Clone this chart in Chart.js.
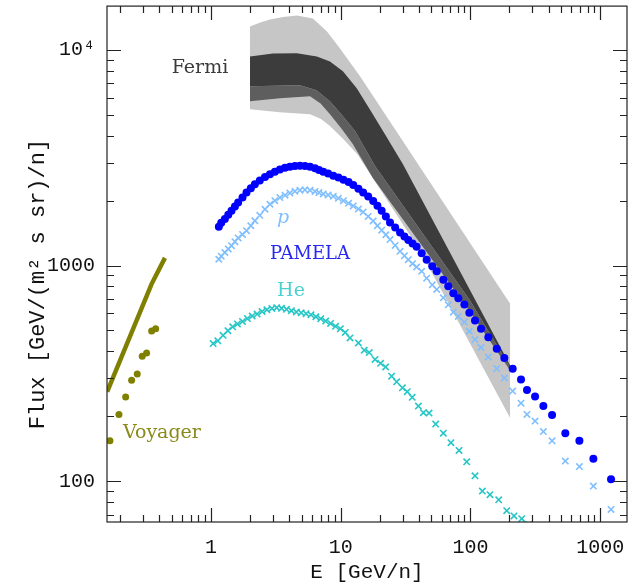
<!DOCTYPE html>
<html>
<head>
<meta charset="utf-8">
<script src="https://cdn.jsdelivr.net/npm/chart.js@4.4.1/dist/chart.umd.min.js"></script>
<style>
  html, body { margin: 0; padding: 0; background: #fff; }
  #wrap { width: 644px; height: 587px; }
</style>
</head>
<body>
<div id="wrap"><canvas id="fluxChart" width="644" height="587"></canvas></div>
<script>
// --- Values: E in GeV/n, flux in GeV/(m^2 s sr)/n ---

// PAMELA total (filled blue dots) and protons (light blue crosses), same energies
const pamelaE = [1.15, 1.2, 1.28, 1.36, 1.44, 1.53, 1.62, 1.75, 1.88, 2.03,
    2.18, 2.38, 2.61, 2.85, 3.11, 3.4, 3.72, 4.06, 4.44, 4.85,
    5.3, 5.8, 6.34, 6.8, 7.34, 8.0, 8.77, 9.6, 10.5, 11.5,
    12.5, 13.7, 14.9, 16.3, 17.8, 19.2, 20.7, 22.3, 24.0, 26.3,
    28.7, 31.0, 33.2, 35.8, 38.5, 42.1, 46.0, 50.8, 55.0, 61.8,
    67.5, 73.8, 80.7, 89.8, 98.1, 108.5, 120.7, 137.4, 159.6, 182.6,
    211.8, 245.5, 273, 315, 365, 426, 539, 692, 887, 1213];
const pamelaFlux = [1514, 1580, 1643, 1720, 1795, 1880, 1961, 2070, 2181, 2285,
    2384, 2480, 2577, 2655, 2726, 2790, 2845, 2875, 2897, 2900,
    2897, 2870, 2827, 2775, 2720, 2670, 2610, 2560, 2500, 2440,
    2366, 2270, 2181, 2090, 1995, 1895, 1795, 1690, 1585, 1500,
    1425, 1365, 1314, 1265, 1224, 1140, 1063, 993, 941, 859,
    802, 745, 706, 660, 605, 557, 510, 465, 412, 373,
    332, 296, 265, 247, 223, 203, 167, 154, 127, 102];
const protonFlux = [1070, 1105, 1150, 1195, 1237, 1290, 1343, 1395, 1451, 1530,
    1614, 1710, 1825, 1925, 2000, 2068, 2120, 2170, 2210, 2237,
    2245, 2237, 2205, 2180, 2150, 2125, 2095, 2050, 2000, 1945,
    1890, 1830, 1770, 1690, 1610, 1530, 1460, 1390, 1320, 1240,
    1165, 1110, 1065, 1020, 985, 941, 874, 814, 775, 709,
    658, 608, 581, 547, 496, 454, 417, 377, 333, 301,
    262, 230, 204, 190, 170, 154, 124, 117, 95, 74];

// PAMELA helium (cyan crosses)
const heliumE = [1.04, 1.13, 1.24, 1.35, 1.47, 1.60, 1.75, 1.91, 2.08, 2.27,
    2.48, 2.70, 2.95, 3.21, 3.50, 3.82, 4.17, 4.55, 4.96, 5.41,
    5.90, 6.44, 7.02, 7.66, 8.36, 9.12, 9.95, 10.85, 11.8, 13.7,
    15.2, 16.6, 18.4, 20.3, 22.2, 24.7, 27.0, 29.9, 32.6, 35.6,
    39.7, 43.4, 48.0, 54.0, 61.8, 70.8, 81.7, 93.6, 108.5, 123.6,
    141.6, 165.2, 190.5, 216.9, 248.6, 281];
const heliumFlux = [435, 448, 475, 499, 520, 536, 551, 568, 583, 596,
    612, 624, 633, 638, 634, 627, 618, 609, 604, 598,
    591, 579, 567, 553, 539, 523, 510, 490, 462, 438,
    405, 395, 367, 352, 339, 307, 289, 271, 260, 245,
    223, 208, 207, 184, 167, 151, 139, 123, 106, 90,
    86.6, 82, 73, 69, 67, 63];

// Voyager: olive line and olive dots
const voyagerLineE = [0.1586, 0.349, 0.442];
const voyagerLineFlux = [260, 823, 1086];
const voyagerE = [0.1665, 0.1953, 0.220, 0.2446, 0.2703, 0.2953, 0.3192, 0.349, 0.3747];
const voyagerFlux = [154, 204, 246, 294, 314, 380, 393, 497, 510];

// Fermi: light grey envelope
const fermiOuterUpE = [2.0, 2.4, 2.85, 3.6, 4.6, 6.11, 7.84, 9.88, 14.1, 202];
const fermiOuterUpF = [12840, 13400, 13830, 14200, 14430, 13980, 12180, 10160, 7545, 667];
const fermiOuterLoE = [2.0, 3.4, 5.8, 7.0, 8.27, 10.5, 13.4, 40.9, 202];
const fermiOuterLoF = [5310, 5140, 5035, 4800, 4435, 3850, 3290, 1173, 197];
// Fermi: dark bundle of curves (upper edge, fade line, lower edge)
const fermiInnerUpE = [2.0, 3.0, 4.6, 6.55, 8.27, 10.4, 13.3, 16.8, 22.0, 30.2, 202];
const fermiInnerUpF = [9330, 9630, 9640, 9330, 8850, 7955, 6640, 5300, 4050, 2950, 345];
const fermiInnerMidE = [2.0, 4.86, 6.5, 8.27, 10.5, 12.9, 18.4, 99.3, 202];
const fermiInnerMidF = [6780, 6855, 6500, 5780, 4900, 4204, 2897, 689, 338];
const fermiInnerLoE = [2.0, 3.4, 5.8, 7.0, 8.27, 10.2, 12.4, 17.7, 94.0, 202];
const fermiInnerLoF = [5780, 5970, 6100, 5650, 5035, 4300, 3660, 2550, 640, 327];

// Axis ticks
const xTickValues = [1, 10, 100, 1000];
const xTickLabels = ['1', '10', '100', '1000'];
const yTickValues = [100, 1000, 10000];
const yTickLabels = ['100', '1000', '10\u2074'];

// --- Helpers ---
function points(xs, ys) {
    return xs.map((x, i) => ({ x: x, y: ys[i] }));
}

// closed outline: upper edge left->right, then lower edge right->left
function bandShape(upE, upF, loE, loF) {
    return points(upE, upF).concat(points(loE, loF).reverse());
}

const SERIF = '"DejaVu Serif", serif';
const MONO = '"Liberation Mono", monospace';

// Inward tick marks on all four sides plus the frame
const frameTicks = {
    id: 'frameTicks',
    afterDatasetsDraw(chart) {
        const { ctx, chartArea: a, scales: { x, y } } = chart;
        ctx.save();
        ctx.strokeStyle = '#222';
        ctx.lineWidth = 1.2;
        ctx.beginPath();
        // x ticks
        for (let k = Math.floor(Math.log10(x.min)); k <= Math.ceil(Math.log10(x.max)); k++) {
            for (let m = 1; m <= 9; m++) {
                const v = m * Math.pow(10, k);
                if (v < x.min || v > x.max) continue;
                const px = Math.round(x.getPixelForValue(v)) + 0.5;
                const len = m === 1 ? 14 : 7;
                ctx.moveTo(px, a.bottom); ctx.lineTo(px, a.bottom - len);
                ctx.moveTo(px, a.top); ctx.lineTo(px, a.top + len);
            }
        }
        // y ticks
        for (let k = Math.floor(Math.log10(y.min)); k <= Math.ceil(Math.log10(y.max)); k++) {
            for (let m = 1; m <= 9; m++) {
                const v = m * Math.pow(10, k);
                if (v < y.min || v > y.max) continue;
                const py = Math.round(y.getPixelForValue(v)) + 0.5;
                const len = m === 1 ? 14 : 7;
                ctx.moveTo(a.left, py); ctx.lineTo(a.left + len, py);
                ctx.moveTo(a.right, py); ctx.lineTo(a.right - len, py);
            }
        }
        ctx.stroke();
        ctx.strokeRect(a.left, a.top, a.width, a.height);

        // y axis title, a little below the middle of the axis as in the original
        ctx.translate(38, (a.top + a.bottom) / 2 + 20);
        ctx.rotate(-Math.PI / 2);
        ctx.font = '22px ' + MONO;
        ctx.fillStyle = '#111';
        ctx.textAlign = 'center';
        ctx.textBaseline = 'middle';
        ctx.fillText('Flux [GeV/(m\u00b2 s sr)/n]', 0, 0);
        ctx.restore();
    }
};

// Text labels placed in data coordinates
const curveLabels = {
    id: 'curveLabels',
    afterDatasetsDraw(chart, args, opts) {
        const { ctx, scales: { x, y } } = chart;
        ctx.save();
        ctx.textAlign = 'center';
        ctx.textBaseline = 'middle';
        opts.items.forEach(item => {
            ctx.font = (item.italic ? 'italic ' : '') + item.size + 'px ' + SERIF;
            ctx.fillStyle = item.color;
            ctx.fillText(item.text, x.getPixelForValue(item.e), y.getPixelForValue(item.f));
        });
        ctx.restore();
    }
};

const ctx = document.getElementById('fluxChart').getContext('2d');

new Chart(ctx, {
    type: 'line',
    data: {
        datasets: [
            {
                label: 'PAMELA',
                data: points(pamelaE, pamelaFlux),
                showLine: false,
                pointStyle: 'circle',
                pointRadius: 4,
                pointBackgroundColor: '#0000ff',
                pointBorderColor: '#0000ff',
                pointBorderWidth: 0
            },
            {
                label: 'p',
                data: points(pamelaE, protonFlux),
                showLine: false,
                pointStyle: 'crossRot',
                pointRadius: 4.5,
                pointBorderColor: '#80bfff',
                pointBorderWidth: 1.6
            },
            {
                label: 'He',
                data: points(heliumE, heliumFlux),
                showLine: false,
                pointStyle: 'crossRot',
                pointRadius: 4.5,
                pointBorderColor: '#26c6c6',
                pointBorderWidth: 1.6
            },
            {
                label: 'Voyager data',
                data: points(voyagerE, voyagerFlux),
                showLine: false,
                pointStyle: 'circle',
                pointRadius: 3.5,
                pointBackgroundColor: '#808000',
                pointBorderWidth: 0
            },
            {
                label: 'Voyager',
                data: points(voyagerLineE, voyagerLineFlux),
                borderColor: '#808000',
                borderWidth: 4.5,
                pointRadius: 0,
                fill: false
            },
            {
                label: 'Fermi fade',
                data: bandShape(fermiInnerMidE, fermiInnerMidF, fermiInnerLoE, fermiInnerLoF),
                borderWidth: 0,
                borderColor: 'rgba(0,0,0,0)',
                backgroundColor: '#5e5e5e',
                pointRadius: 0,
                fill: 'shape'
            },
            {
                label: 'Fermi core',
                data: bandShape(fermiInnerUpE, fermiInnerUpF, fermiInnerMidE, fermiInnerMidF),
                borderWidth: 0,
                borderColor: 'rgba(0,0,0,0)',
                backgroundColor: '#3c3c3c',
                pointRadius: 0,
                fill: 'shape'
            },
            {
                label: 'Fermi envelope',
                data: bandShape(fermiOuterUpE, fermiOuterUpF, fermiOuterLoE, fermiOuterLoF),
                borderWidth: 0,
                borderColor: 'rgba(0,0,0,0)',
                backgroundColor: '#c6c6c6',
                pointRadius: 0,
                fill: 'shape'
            }
        ]
    },
    options: {
        responsive: false,
        animation: false,
        events: [],
        layout: { padding: { top: 4, right: 17, left: 0, bottom: 0 } },
        scales: {
            x: {
                type: 'logarithmic',
                min: 0.158,
                max: 1611,
                grid: { display: false, drawTicks: false },
                border: { display: false },
                afterBuildTicks: s => { s.ticks = xTickValues.map(v => ({ value: v })); },
                afterFit: s => { s.height = 65; s.paddingLeft = 0; s.paddingRight = 0; },
                ticks: {
                    autoSkip: false,
                    maxRotation: 0,
                    padding: 14,
                    color: '#111',
                    font: { family: MONO, size: 20 },
                    callback: (v, i) => xTickLabels[i]
                },
                title: {
                    display: true,
                    text: 'E [GeV/n]',
                    color: '#111',
                    font: { family: MONO, size: 21 },
                    padding: { top: 0, bottom: 2 }
                }
            },
            y: {
                type: 'logarithmic',
                min: 64.7,
                max: 15970,
                grid: { display: false, drawTicks: false },
                border: { display: false },
                afterBuildTicks: s => { s.ticks = yTickValues.map(v => ({ value: v })); },
                afterFit: s => { s.width = 107; s.paddingTop = 0; s.paddingBottom = 0; },
                ticks: {
                    autoSkip: false,
                    padding: 12,
                    color: '#111',
                    font: { family: MONO, size: 20 },
                    callback: (v, i) => yTickLabels[i]
                },
                title: { display: false }
            }
        },
        plugins: {
            legend: { display: false },
            tooltip: { enabled: false },
            curveLabels: {
                items: [
                    { text: 'Fermi', e: 0.823, f: 8210, color: '#3a3a3a', size: 19 },
                    { text: 'p', e: 3.59, f: 1666, color: '#80bfff', size: 19, italic: true },
                    { text: 'PAMELA', e: 5.8, f: 1124, color: '#2828f0', size: 18 },
                    { text: 'He', e: 4.14, f: 759, color: '#4fd0d0', size: 19 },
                    { text: 'Voyager', e: 0.419, f: 167.6, color: '#8a8a1a', size: 19 }
                ]
            }
        }
    },
    plugins: [frameTicks, curveLabels]
});
</script>
</body>
</html>
